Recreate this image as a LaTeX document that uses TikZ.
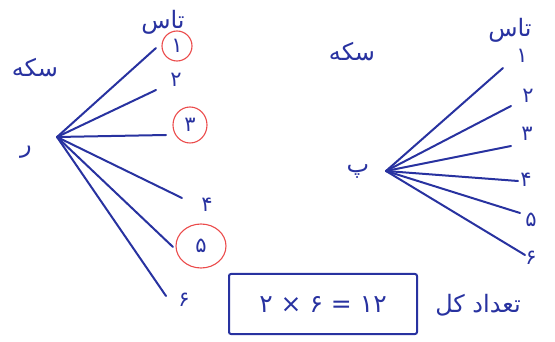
\documentclass[tikz,border=0pt]{standalone}
\usepackage{fontspec}
\newfontfamily\arabicfont[Script=Arabic]{DejaVu Sans}
\TeXXeTstate=1
\definecolor{pen}{RGB}{40,50,160}
\definecolor{redpen}{RGB}{235,75,75}
\begin{document}
\begin{tikzpicture}[x=1pt,y=-1pt,
  branch/.style={draw=pen, line width=2pt, line cap=round},
  word/.style={text=pen, font=\arabicfont\fontsize{24}{26}\selectfont, inner sep=0pt},
  digit/.style={text=pen, font=\arabicfont\fontsize{21}{23}\selectfont, inner sep=0pt},
  ring/.style={draw=redpen, line width=1.1pt},
  framebox/.style={draw=pen, line width=2pt, rounded corners=2pt, text=pen, font=\arabicfont\fontsize{25}{27}\selectfont, minimum width=188pt, minimum height=60pt}]
\useasboundingbox (0,0) rectangle (555,342);
% left tree
\node[word] (coinL) at (35,68) {\beginR سکه\endR};
\node[word] (dieL) at (163,22) {\beginR تاس\endR};
\node[word] (headL) at (26,152) {\beginR ر\endR};
\coordinate (rootL) at (57,137);
\coordinate (la1) at (156,48);
\coordinate (la2) at (156,90);
\coordinate (la3) at (166,135);
\coordinate (la4) at (182,198);
\coordinate (la5) at (173,247);
\coordinate (la6) at (166,296);
\node[digit] (ln1) at (177,46) {۱};
\node[digit] (ln2) at (176,80) {۲};
\node[digit] (ln3) at (190,125) {۳};
\node[digit] (ln4) at (207,205) {۴};
\node[digit] (ln5) at (201,246) {۵};
\node[digit] (ln6) at (184,300) {۶};
\foreach \i in {1,...,6} \draw[branch] (rootL) -- (la\i);
\draw[ring] (ln1) ellipse [x radius=15, y radius=15];
\draw[ring] (ln3) ellipse [x radius=17, y radius=18];
\draw[ring] (ln5) ellipse [x radius=25, y radius=22];
% right tree
\node[word] (coinR) at (352,52) {\beginR سکه\endR};
\node[word] (dieR) at (510,30) {\beginR تاس\endR};
\node[word] (tailR) at (358,172) {\beginR پ\endR};
\coordinate (rootR) at (386,171);
\coordinate (ra1) at (503,68);
\coordinate (ra2) at (511,106);
\coordinate (ra3) at (511,146);
\coordinate (ra4) at (518,181);
\coordinate (ra5) at (520,213);
\coordinate (ra6) at (525,255);
\node[digit] (rn1) at (522,56) {۱};
\node[digit] (rn2) at (528,96) {۲};
\node[digit] (rn3) at (527,134) {۳};
\node[digit] (rn4) at (526,180) {۴};
\node[digit] (rn5) at (531,220) {۵};
\node[digit] (rn6) at (531,258) {۶};
\foreach \i in {1,...,6} \draw[branch] (rootR) -- (ra\i);
% result
\node[framebox] (total) at (323,304) {\beginR ۱۲ = ۶ × ۲\endR};
\node[word] (count) at (478,305) {\beginR تعداد کل\endR};
\end{tikzpicture}
\end{document}
